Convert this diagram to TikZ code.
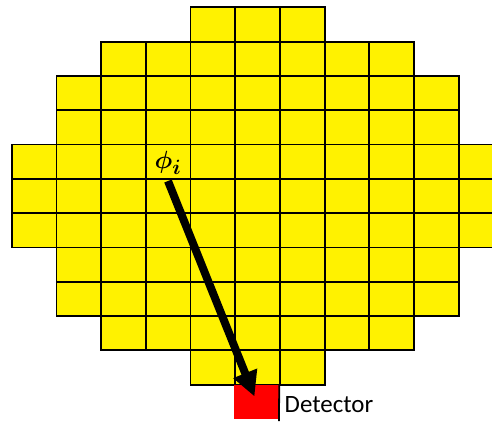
\documentclass[tikz,border=0pt]{standalone}
\usepackage{amsmath}
\usepackage{bm}
\usepackage{fontspec}
\usetikzlibrary{arrows.meta}
\newfontfamily\detfont{Carlito}
\begin{document}
\begin{tikzpicture}[x=1pt,y=-1pt,
  cell/.style={fill=yellow,draw=black,line width=1.8pt},
  detbox/.style={fill=red,inner sep=0pt,minimum width=44.7pt,minimum height=34.3pt,anchor=north west},
  detlabel/.style={anchor=base west,inner sep=0pt,font=\detfont\fontsize{24.9}{30}\selectfont},
  philabel/.style={inner sep=0pt,font=\fontsize{24.88}{30}\selectfont},
  ray/.style={line width=8pt,-{Triangle[length=25pt,width=24pt]}}]
\useasboundingbox (0,0) rectangle (492,421);
\clip (0,0) rectangle (492,421);
\def\cw{44.7}
\def\ch{34.3}
\foreach \r/\a/\b in {0/4/6,1/2/8,2/1/9,3/1/9,4/0/10,5/0/10,6/0/10,7/1/9,8/1/9,9/2/8,10/4/6}
  \foreach \c in {\a,...,\b}
    \draw[cell] ({11.7+\cw*\c},{7.3+\ch*\r}) rectangle ++(\cw,\ch);
\node[detbox] (det) at (234.2,384.6) {};
\coordinate (detbot) at (278.9,421);
\draw[line width=1.8pt] (det.north east) -- (detbot);
\node[detlabel] (lbl) at (284.5,412.5) {Detector};
\node[philabel] (phi) at (168,163) {$\bm{\phi}_{\bm{i}}$};
\coordinate (a0) at (168,181);
\coordinate (a1) at (254.5,396.5);
\draw[ray] (a0) -- (a1);
\end{tikzpicture}
\end{document}
